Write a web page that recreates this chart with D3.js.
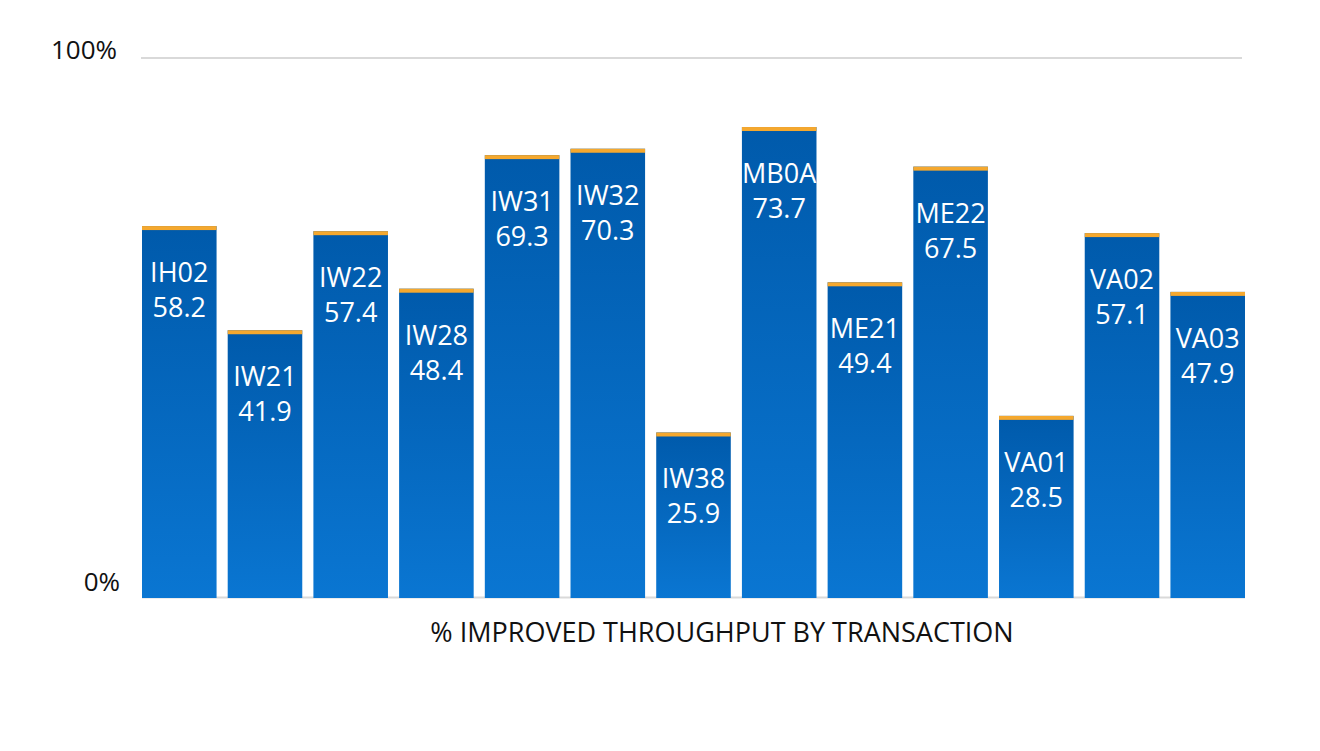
<!DOCTYPE html>
<meta charset="utf-8">
<style>
body { margin: 0; background: #fff; }
text { font-family: "Open Sans", sans-serif; }
.yaxis path.domain { display: none; }
.yaxis .tick line { display: none; }
.yaxis .tick text { font-size: 26px; fill: #111; }
.bar-label { font-size: 27px; fill: #fff; }
.title { font-size: 27px; fill: #111; }
</style>
<body>
<div id="chart"></div>
<script src="https://d3js.org/d3.v7.min.js"></script>
<script>
var categories = ["IH02", "IW21", "IW22", "IW28", "IW31", "IW32", "IW38", "MB0A", "ME21", "ME22", "VA01", "VA02", "VA03"];
var values = [58.2, 41.9, 57.4, 48.4, 69.3, 70.3, 25.9, 73.7, 49.4, 67.5, 28.5, 57.1, 47.9];
var tickValues = [0, 84.5];
var tickLabels = ["0%", "100%"];
var xTitle = "% IMPROVED THROUGHPUT BY TRANSACTION";

var data = categories.map(function(c, i) { return {key: c, value: values[i]}; });

var margin = {top: 58, right: 75, bottom: 153, left: 142},
    width = 1320 - margin.left - margin.right,
    height = 751 - margin.top - margin.bottom;

var x = d3.scaleBand()
    .domain(categories)
    .range([0, width])
    .paddingInner(0.13)
    .paddingOuter(0);

var y = d3.scaleLinear()
    .domain([0, 84.5])
    .range([height, 0]);

var svg = d3.select("#chart").append("svg")
    .attr("width", 1320)
    .attr("height", 751)
  .append("g")
    .attr("transform", "translate(" + margin.left + "," + margin.top + ")");

// bar gradient, darker at the top
var grad = svg.append("defs").append("linearGradient")
    .attr("id", "barGrad")
    .attr("x1", 0).attr("y1", 0).attr("x2", 0).attr("y2", 1);
grad.append("stop").attr("offset", "0%").attr("stop-color", "#005aab");
grad.append("stop").attr("offset", "100%").attr("stop-color", "#0a76d2");

// top grid line
svg.append("line")
    .attr("x1", -1).attr("x2", width - 3)
    .attr("y1", y(84.5)).attr("y2", y(84.5))
    .attr("stroke", "#d9d9d9").attr("stroke-width", 2);

// baseline
svg.append("line")
    .attr("x1", 0).attr("x2", width)
    .attr("y1", y(0) - 0.5).attr("y2", y(0) - 0.5)
    .attr("stroke", "#d9d9d9").attr("stroke-width", 2);

// y axis labels
var yAxis = svg.append("g").attr("class", "yaxis")
    .attr("transform", "translate(-25,0)")
    .call(d3.axisLeft(y).tickValues(tickValues).tickSize(0).tickPadding(0)
      .tickFormat(function(d, i) { return tickLabels[i]; }));
yAxis.selectAll(".tick text")
    .attr("dy", function(d, i) { return i == 0 ? "-0.27em" : "0em"; })
    .attr("x", function(d, i) { return i == 0 ? 3 : 0; });

var bars = svg.selectAll(".bar")
    .data(data)
  .enter().append("g")
    .attr("class", "bar")
    .attr("transform", function(d) { return "translate(" + x(d.key) + ",0)"; });

bars.append("rect")
    .attr("y", function(d) { return y(d.value); })
    .attr("width", x.bandwidth())
    .attr("height", function(d) { return height - y(d.value); })
    .attr("fill", "url(#barGrad)");

bars.append("rect")
    .attr("y", function(d) { return y(d.value); })
    .attr("width", x.bandwidth())
    .attr("height", 4)
    .attr("fill", "#f5a82e");

bars.append("text")
    .attr("class", "bar-label")
    .attr("text-anchor", "middle")
    .attr("x", x.bandwidth() / 2)
    .attr("y", function(d) { return y(d.value) + 56; })
    .text(function(d) { return d.key; });

bars.append("text")
    .attr("class", "bar-label")
    .attr("text-anchor", "middle")
    .attr("x", x.bandwidth() / 2)
    .attr("y", function(d) { return y(d.value) + 91; })
    .text(function(d) { return d.value.toFixed(1); });

svg.append("text")
    .attr("class", "title")
    .attr("text-anchor", "middle")
    .attr("x", 580)
    .attr("y", height + 44)
    .text(xTitle);
</script>
</body>
